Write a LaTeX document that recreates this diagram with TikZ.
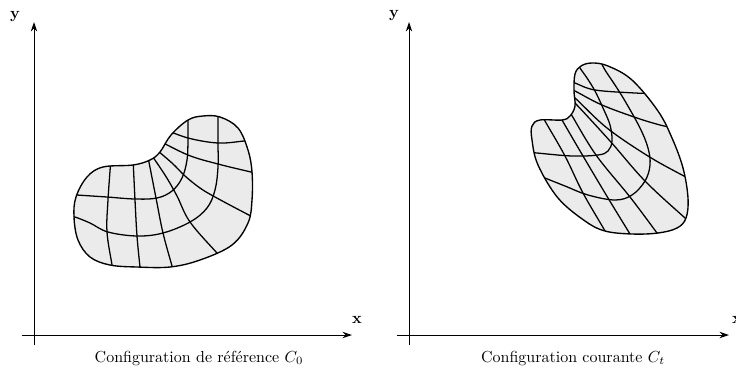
\documentclass[tikz,border=0pt]{standalone}
\usepackage{fontspec}
\usetikzlibrary{arrows.meta}
\tikzset{
  axis/.style={line width=0.6pt,-{Stealth[length=6pt,width=4pt]}},
  outl/.style={line width=0.85pt},
  gridl/.style={line width=0.8pt},
  lab/.style={font=\bfseries\normalsize},
  captext/.style={font=\normalsize}
}
\begin{document}
\begin{tikzpicture}[x=0.625pt,y=-0.625pt]
\useasboundingbox (0,0) rectangle (736,374);
% ---------- left panel ----------
\coordinate (Ly0) at (34,345); \coordinate (Ly1) at (34,22);
\coordinate (Lx0) at (22,335); \coordinate (Lx1) at (352,335);
\draw[axis] (Ly0) -- (Ly1);
\draw[axis] (Lx0) -- (Lx1);
\node[lab] (ly) at (15,17) {y};
\node[lab] (lx) at (357,320) {x};
\node[captext] (cl) at (199,358) {Configuration de référence $C_0$};
\def\outL{(103,167) (133,165) (150,160) (160,152) (171,135) (188,120) (203,116) (220,117) (238,128) (248,150) (252,172) (252,200) (248,223) (232,245) (200,260) (170,267) (137,267) (110,265) (90,257) (78,240) (74,217) (76,197) (87,177)}
\fill[black!8] plot[smooth cycle,tension=0.6] coordinates {\outL};
\begin{scope}
\clip plot[smooth cycle,tension=0.6] coordinates {\outL};
\draw[gridl] plot[smooth,tension=0.6] coordinates {(66,194) (77,195) (107,197) (135,199) (157,198) (172,191) (182,178) (187,160) (188,140) (188,120) (188,108)};
\draw[gridl] plot[smooth,tension=0.6] coordinates {(64,214) (75,217) (90,223) (108,232) (137,236) (163,233) (190,222) (207,208) (215,190) (218,167) (218,143) (218,117) (218,106)};
\draw[gridl] plot[smooth,tension=0.6] coordinates {(111,158) (108,200) (107,232) (112,265) (113,274)};
\draw[gridl] plot[smooth,tension=0.6] coordinates {(133,158) (135,200) (137,236) (140,267) (141,274)};
\draw[gridl] plot[smooth,tension=0.6] coordinates {(147,152) (156,198) (163,233) (172,266) (174,274)};
\draw[gridl] plot[smooth,tension=0.6] coordinates {(148,150) (165,175) (177,196) (190,222) (217,253) (224,260)};
\draw[gridl] plot[smooth,tension=0.6] coordinates {(152,146) (172,163) (185,176) (200,188) (215,197) (245,213) (257,219)};
\draw[gridl] plot[smooth,tension=0.6] coordinates {(156,139) (188,155) (218,164) (251,172) (260,174)};
\draw[gridl] plot[smooth,tension=0.6] coordinates {(164,129) (188,138) (218,143) (244,141) (254,140)};
\end{scope}
\draw[outl] plot[smooth cycle,tension=0.6] coordinates {\outL};
% ---------- right panel ----------
\coordinate (Ry0) at (409,345); \coordinate (Ry1) at (409,22);
\coordinate (Rx0) at (397,335); \coordinate (Rx1) at (729,335);
\draw[axis] (Ry0) -- (Ry1);
\draw[axis] (Rx0) -- (Rx1);
\node[lab] (ry) at (394,16) {y};
\node[lab] (rx) at (737,320) {x};
\node[captext] (cr) at (573,358) {Configuration courante $C_t$};
\def\outR{(574,91) (575,74) (581,66) (592,63) (608,66) (632,80) (658,111) (672,138) (683,168) (688,198) (686,218) (677,228) (658,233) (632,234) (605,231) (585,221) (558,198) (538,165) (532,140) (532,126) (540,120) (562,120) (570,116) (575,106)}
\fill[black!8] plot[smooth cycle,tension=0.6] coordinates {\outR};
\begin{scope}
\clip plot[smooth cycle,tension=0.6] coordinates {\outR};
\draw[gridl] plot[smooth,tension=0.6] coordinates {(526,152) (537,153) (572,156) (598,155) (608,151) (612,141) (610,125) (603,108) (595,91) (587,78) (580,68) (576,60)};
\draw[gridl] plot[smooth,tension=0.6] coordinates {(536,174) (545,178) (565,186) (588,195) (615,200) (632,195) (645,181) (650,165) (648,148) (640,128) (625,101) (615,85) (605,70) (600,60)};
\draw[gridl] plot[smooth,tension=0.6] coordinates {(541,113) (545,121) (565,156) (583,193) (605,231) (609,240)};
\draw[gridl] plot[smooth,tension=0.6] coordinates {(558,113) (562,120) (583,156) (608,198) (630,234) (635,242)};
\draw[gridl] plot[smooth,tension=0.6] coordinates {(566,106) (571,114) (596,155) (630,197) (657,233) (663,241)};
\draw[gridl] plot[smooth,tension=0.6] coordinates {(568,97) (575,103) (610,141) (645,181) (685,218) (693,225)};
\draw[gridl] plot[smooth,tension=0.6] coordinates {(566,92) (575,98) (607,128) (648,156) (682,175) (694,181)};
\draw[gridl] plot[smooth,tension=0.6] coordinates {(566,87) (575,91) (602,105) (637,118) (660,125) (670,127)};
\draw[gridl] plot[smooth,tension=0.6] coordinates {(566,80) (575,83) (595,90) (635,93) (645,93)};
\end{scope}
\draw[outl] plot[smooth cycle,tension=0.6] coordinates {\outR};
\end{tikzpicture}
\end{document}
